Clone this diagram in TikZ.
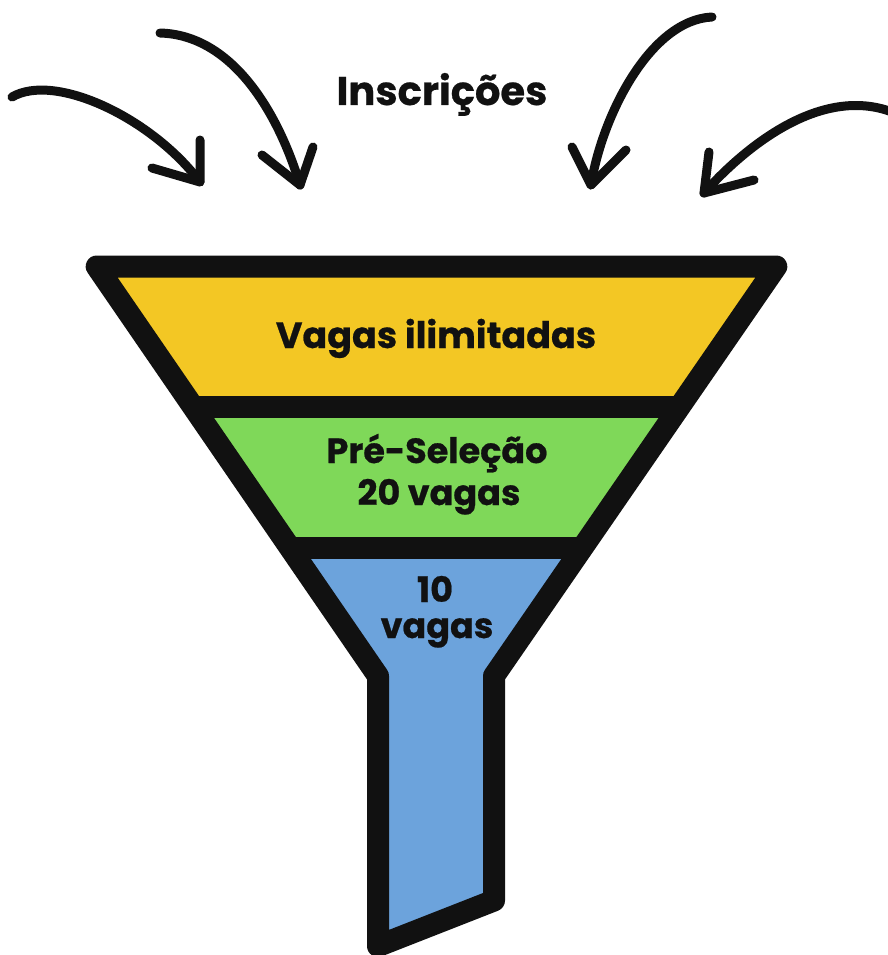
\documentclass[tikz,border=0pt]{standalone}
\usepackage{fontspec}
\setmainfont{Poppins}[BoldFeatures={FakeBold=0.6}]
\usepackage{xcolor}
\usepackage{tikz}
\definecolor{band_yellow}{RGB}{243,199,36}
\definecolor{band_green}{RGB}{127,216,89}
\definecolor{band_blue}{RGB}{108,163,220}
\definecolor{ink}{RGB}{17,17,17}
\tikzset{
    label_text/.style = {inner sep=0pt, anchor=base, text=ink, font=\fontsize{35}{40}\selectfont\bfseries},
    title_text/.style = {label_text, font=\fontsize{40}{44}\selectfont\bfseries},
    rim/.style = {draw=ink, line width=22pt, line join=round, line cap=round},
    bar/.style = {draw=ink, line width=22pt},
    sweep/.style = {draw=ink, line width=9pt, line cap=round, line join=round}
}
\begin{document}
\begin{tikzpicture}[x=1pt,y=-1pt]
    \useasboundingbox (0,0) rectangle (888,955);
    % funnel outline (centre of the black rim)
    \coordinate (tl) at (96.7,266.5);
    \coordinate (tr) at (776.3,266.5);
    \coordinate (nr) at (494,676);
    \coordinate (br) at (494,900.5);
    \coordinate (bl) at (378,946);
    \coordinate (nl) at (378,676);
    \begin{scope}
        \clip (tl) -- (tr) -- (nr) -- (br) -- (bl) -- (nl) -- cycle;
        \fill [band_yellow] (0,250) rectangle (888,406.5);
        \fill [band_green] (0,406.5) rectangle (888,547.5);
        \fill [band_blue] (0,547.5) rectangle (888,960);
        \draw [bar] (0,406.5) -- (888,406.5);
        \draw [bar] (0,547.5) -- (888,547.5);
    \end{scope}
    \draw [rim] (tl) -- (tr) -- (nr) -- (br) -- (bl) -- (nl) -- cycle;

    \node [title_text] (ins) at (442,105) {Inscrições};
    \node [label_text, font=\fontsize{36.5}{40}\selectfont\bfseries] (ilim) at (436,348) {Vagas ilimitadas};
    \node [label_text] (pre) at (437,463) {Pré-Seleção};
    \node [label_text] (vinte) at (439,505) {20 vagas};
    \node [label_text] (dez) at (435,602) {10};
    \node [label_text] (dezv) at (437,638) {vagas};

    % arrows falling into the funnel
    \coordinate (a1s) at (12,97);   \coordinate (a1t) at (200,182);
    \coordinate (a2s) at (160,33);  \coordinate (a2t) at (300,185);
    \coordinate (a3s) at (712,17);  \coordinate (a3t) at (591,185);
    \coordinate (a4s) at (892,112); \coordinate (a4t) at (704,193);
    \draw [sweep] (a1s) .. controls (55,72) and (152,118) .. (a1t);
    \draw [sweep] (152,168) -- (a1t) -- (200,140);
    \draw [sweep] (a2s) .. controls (235,35) and (280,118) .. (a2t);
    \draw [sweep] (262,155) -- (a2t) -- (313,147);
    \draw [sweep] (a3s) .. controls (650,20) and (602,116) .. (a3t);
    \draw [sweep] (572,147) -- (a3t) -- (626,150);
    \draw [sweep] (a4s) .. controls (820,85) and (744,148) .. (a4t);
    \draw [sweep] (709,152) -- (a4t) -- (754,180);
\end{tikzpicture}
\end{document}
